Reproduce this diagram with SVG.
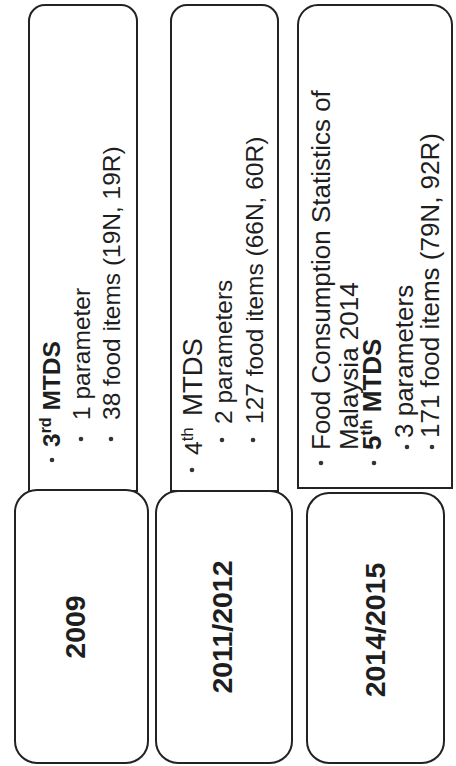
<svg xmlns="http://www.w3.org/2000/svg" width="456" height="766" viewBox="0 0 456 766">
<style>
.box{fill:#fff;stroke:#222;stroke-width:2}
.t{font-family:"Liberation Sans",Arial,sans-serif;font-size:24.5px;fill:#1e1e1e}
.t3{font-family:"Liberation Sans",Arial,sans-serif;font-size:26px;fill:#1e1e1e}
.yr{font-family:"Liberation Sans",Arial,sans-serif;font-size:28.5px;font-weight:bold;fill:#1e1e1e;text-anchor:middle}
.b{font-weight:bold}
.dot{fill:#333}
</style>
<rect width="456" height="766" fill="#fff"/>

<g id="details-2009">
<path class="box" d="M29,491 V21 A16,16 0 0 1 45,5 H121 A16,16 0 0 1 137,21 V491 Z"/>
<circle class="dot" cx="52" cy="460" r="2.3"/>
<circle class="dot" cx="81" cy="439" r="2.3"/>
<circle class="dot" cx="111" cy="439" r="2.3"/>
<g transform="rotate(-90)">
<text class="t b" x="-447" y="60">3<tspan font-size="16" dy="-9">rd</tspan><tspan dy="9"> MTDS</tspan></text>
<text class="t" x="-420" y="90">1 parameter</text>
<text class="t" x="-420" y="120">38 food items (19N, 19R)</text>
</g>
</g>

<g id="details-2011">
<path class="box" d="M171,491 V21 A16,16 0 0 1 187,5 H262 A16,16 0 0 1 278,21 V491 Z"/>
<circle class="dot" cx="192" cy="470" r="2.3"/>
<circle class="dot" cx="222" cy="440" r="2.3"/>
<circle class="dot" cx="253" cy="440" r="2.3"/>
<g transform="rotate(-90)">
<text class="t" x="-455" y="202">4<tspan font-size="17" dy="-9">th</tspan><tspan x="-416" dy="9" font-size="27.5">MTDS</tspan></text>
<text class="t" x="-424" y="232">2 parameters</text>
<text class="t" x="-424" y="263">127 food items (66N, 60R)</text>
</g>
</g>

<g id="details-2014">
<path class="box" d="M298,488 V25 A20,20 0 0 1 318,5 H432 A20,20 0 0 1 452,25 V488 Z"/>
<circle class="dot" cx="321" cy="463" r="2.3"/>
<circle class="dot" cx="374" cy="463" r="2.3"/>
<circle class="dot" cx="407" cy="447" r="2.3"/>
<circle class="dot" cx="432" cy="447" r="2.3"/>
<g transform="rotate(-90)">
<text class="t3" x="-450" y="330">Food Consumption Statistics of</text>
<text class="t3" x="-450" y="358">Malaysia 2014</text>
<text class="t3 b" x="-450" y="381">5<tspan font-size="17" dy="-9">th</tspan><tspan dy="9"> MTDS</tspan></text>
<text class="t3" x="-438" y="413">3 parameters</text>
<text class="t3" x="-438" y="439">171 food items (79N, 92R)</text>
</g>
</g>

<g id="year-2009">
<rect class="box" x="15" y="490" width="133" height="273" rx="22"/>
<text class="yr" transform="translate(85,627) rotate(-90)">2009</text>
</g>

<g id="year-2011">
<rect class="box" x="156" y="491" width="136" height="272" rx="22"/>
<text class="yr" transform="translate(232,627) rotate(-90)">2011/2012</text>
</g>

<g id="year-2014">
<rect class="box" x="307" y="493" width="137" height="270" rx="22"/>
<text class="yr" transform="translate(385,630) rotate(-90)">2014/2015</text>
</g>
</svg>
